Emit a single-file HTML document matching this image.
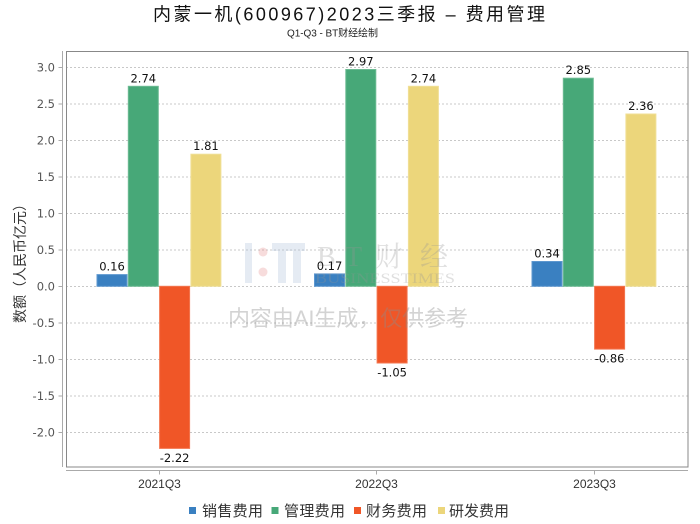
<!DOCTYPE html>
<html>
<head>
<meta charset="utf-8">
<style>
html,body{margin:0;padding:0;background:#fff;}
svg{display:block;}
.cjk{font-family:"Liberation Sans","Noto Sans CJK SC",sans-serif;}
.num{font-family:"DejaVu Sans","Liberation Sans",sans-serif;}
</style>
</head>
<body>
<svg width="700" height="524" viewBox="0 0 700 524" xmlns="http://www.w3.org/2000/svg">
  <rect x="0" y="0" width="700" height="524" fill="#fff"/>
  <!-- Title -->
  <text x="153" y="20.5" class="cjk" font-size="18" fill="#111" textLength="392" lengthAdjust="spacing">内蒙一机(600967)2023三季报 – 费用管理</text>
  <text x="287" y="36.5" class="cjk" font-size="10" fill="#222" textLength="91" lengthAdjust="spacing">Q1-Q3 - BT财经绘制</text>

  <!-- gridlines -->
  <g stroke="#c8c8c8" stroke-width="1" stroke-dasharray="2,2">
    <line x1="66" x2="688" y1="67.5" y2="67.5"/>
    <line x1="66" x2="688" y1="104" y2="104"/>
    <line x1="66" x2="688" y1="140.5" y2="140.5"/>
    <line x1="66" x2="688" y1="177" y2="177"/>
    <line x1="66" x2="688" y1="213.5" y2="213.5"/>
    <line x1="66" x2="688" y1="250" y2="250"/>
    <line x1="66" x2="688" y1="286.5" y2="286.5"/>
    <line x1="66" x2="688" y1="323" y2="323"/>
    <line x1="66" x2="688" y1="359.5" y2="359.5"/>
    <line x1="66" x2="688" y1="396" y2="396"/>
    <line x1="66" x2="688" y1="432.5" y2="432.5"/>
  </g>

  <!-- Bars -->
  <g stroke-width="1">
    <!-- 2021Q3 -->
    <rect x="97" y="274.6" width="30" height="11.7" fill="#3a80c1" stroke="#5d97cf"/>
    <rect x="128.3" y="86.3" width="30" height="200" fill="#47a878" stroke="#6dbb93"/>
    <rect x="159.6" y="286.3" width="30" height="162.1" fill="#f05627" stroke="#f3764f"/>
    <rect x="190.9" y="154.2" width="30" height="132.1" fill="#ecd67b" stroke="#f0df96"/>
    <!-- 2022Q3 -->
    <rect x="314.5" y="273.9" width="30" height="12.4" fill="#3a80c1" stroke="#5d97cf"/>
    <rect x="345.8" y="69.5" width="30" height="216.8" fill="#47a878" stroke="#6dbb93"/>
    <rect x="377.1" y="286.3" width="30" height="76.7" fill="#f05627" stroke="#f3764f"/>
    <rect x="408.4" y="86.3" width="30" height="200" fill="#ecd67b" stroke="#f0df96"/>
    <!-- 2023Q3 -->
    <rect x="532" y="261.5" width="30" height="24.8" fill="#3a80c1" stroke="#5d97cf"/>
    <rect x="563.3" y="78.2" width="30" height="208.1" fill="#47a878" stroke="#6dbb93"/>
    <rect x="594.6" y="286.3" width="30" height="62.8" fill="#f05627" stroke="#f3764f"/>
    <rect x="625.9" y="114" width="30" height="172.3" fill="#ecd67b" stroke="#f0df96"/>
  </g>

  <!-- Watermark logo (over bars, translucent) -->
  <g>
    <rect x="245" y="243" width="7" height="40" fill="rgba(170,190,215,0.3)"/>
    <circle cx="263" cy="252" r="4.5" fill="rgba(230,140,140,0.3)"/>
    <circle cx="263" cy="272" r="4.5" fill="rgba(230,140,140,0.3)"/>
    <rect x="272" y="243" width="33" height="8" fill="rgba(170,190,215,0.3)"/>
    <rect x="278" y="251" width="8" height="32" fill="rgba(170,190,215,0.3)"/>
    <rect x="293" y="251" width="8" height="32" fill="rgba(170,190,215,0.3)"/>
    <g font-family="'Liberation Serif','Noto Serif CJK SC',serif" font-size="28" fill="rgba(150,150,150,0.3)">
      <text x="317" y="266">B</text>
      <text x="345" y="266">T</text>
      <text x="375" y="266">财</text>
      <text x="420" y="266">经</text>
    </g>
    <text x="315" y="283" font-family="'Liberation Serif',serif" font-size="15" fill="rgba(150,150,150,0.3)" textLength="140" lengthAdjust="spacingAndGlyphs">BUSINESSTIMES</text>
  </g>

  <!-- Value labels -->
  <g class="num" font-size="11.5" fill="#111" text-anchor="middle">
    <text x="112" y="270.6">0.16</text>
    <text x="143.3" y="82.3">2.74</text>
    <text x="174.6" y="462">-2.22</text>
    <text x="205.9" y="150.2">1.81</text>

    <text x="329.5" y="269.9">0.17</text>
    <text x="360.8" y="65.5">2.97</text>
    <text x="392.1" y="376.6">-1.05</text>
    <text x="423.4" y="82.3">2.74</text>

    <text x="547" y="257.5">0.34</text>
    <text x="578.3" y="74.2">2.85</text>
    <text x="609.6" y="362.7">-0.86</text>
    <text x="640.9" y="110">2.36</text>
  </g>

  <!-- Watermark text (over bars) -->
  <text x="228" y="326" class="cjk" font-size="22" fill="rgba(140,140,140,0.38)" textLength="240" lengthAdjust="spacing">内容由AI生成，仅供参考</text>

  <!-- plot border -->
  <rect x="66.5" y="51.5" width="621.5" height="415.5" fill="none" stroke="#888" stroke-width="1"/>

  <!-- Y axis -->
  <line x1="62.5" x2="62.5" y1="51" y2="467" stroke="#aaa" stroke-width="1"/>
  <g stroke="#aaa" stroke-width="1">
    <line x1="58.5" x2="62.5" y1="67.5" y2="67.5"/>
    <line x1="58.5" x2="62.5" y1="104" y2="104"/>
    <line x1="58.5" x2="62.5" y1="140.5" y2="140.5"/>
    <line x1="58.5" x2="62.5" y1="177" y2="177"/>
    <line x1="58.5" x2="62.5" y1="213.5" y2="213.5"/>
    <line x1="58.5" x2="62.5" y1="250" y2="250"/>
    <line x1="58.5" x2="62.5" y1="286.5" y2="286.5"/>
    <line x1="58.5" x2="62.5" y1="323" y2="323"/>
    <line x1="58.5" x2="62.5" y1="359.5" y2="359.5"/>
    <line x1="58.5" x2="62.5" y1="396" y2="396"/>
    <line x1="58.5" x2="62.5" y1="432.5" y2="432.5"/>
  </g>
  <g class="num" font-size="11.5" fill="#555" text-anchor="end">
    <text x="55" y="71.5">3.0</text>
    <text x="55" y="108">2.5</text>
    <text x="55" y="144.5">2.0</text>
    <text x="55" y="181">1.5</text>
    <text x="55" y="217.5">1.0</text>
    <text x="55" y="254">0.5</text>
    <text x="55" y="290.5">0.0</text>
    <text x="55" y="327">-0.5</text>
    <text x="55" y="363.5">-1.0</text>
    <text x="55" y="400">-1.5</text>
    <text x="55" y="436.5">-2.0</text>
  </g>
  <text transform="translate(25,260) rotate(-90)" class="cjk" font-size="14" fill="#333" text-anchor="middle">数额（人民币亿元）</text>

  <!-- X axis -->
  <line x1="66" x2="688" y1="470.5" y2="470.5" stroke="#aaa" stroke-width="1"/>
  <g stroke="#aaa" stroke-width="1">
    <line x1="159.5" x2="159.5" y1="470.5" y2="474.5"/>
    <line x1="376.5" x2="376.5" y1="470.5" y2="474.5"/>
    <line x1="594.5" x2="594.5" y1="470.5" y2="474.5"/>
  </g>
  <g font-family="'Liberation Sans',sans-serif" font-size="12" fill="#333" text-anchor="middle">
    <text x="159.5" y="488">2021Q3</text>
    <text x="376.5" y="488">2022Q3</text>
    <text x="594.5" y="488">2023Q3</text>
  </g>

  <!-- Legend -->
  <rect x="189" y="507" width="7" height="7" fill="#3a80c1"/>
  <text x="202" y="516" class="cjk" font-size="15" fill="#333" textLength="61" lengthAdjust="spacing">销售费用</text>
  <rect x="271.5" y="507" width="7" height="7" fill="#47a878"/>
  <text x="284" y="516" class="cjk" font-size="15" fill="#333" textLength="61" lengthAdjust="spacing">管理费用</text>
  <rect x="354" y="507" width="7" height="7" fill="#f05627"/>
  <text x="366" y="516" class="cjk" font-size="15" fill="#333" textLength="61" lengthAdjust="spacing">财务费用</text>
  <rect x="438" y="507" width="7" height="7" fill="#ecd67b"/>
  <text x="449" y="516" class="cjk" font-size="15" fill="#333" textLength="60" lengthAdjust="spacing">研发费用</text>
</svg>
</body>
</html>
